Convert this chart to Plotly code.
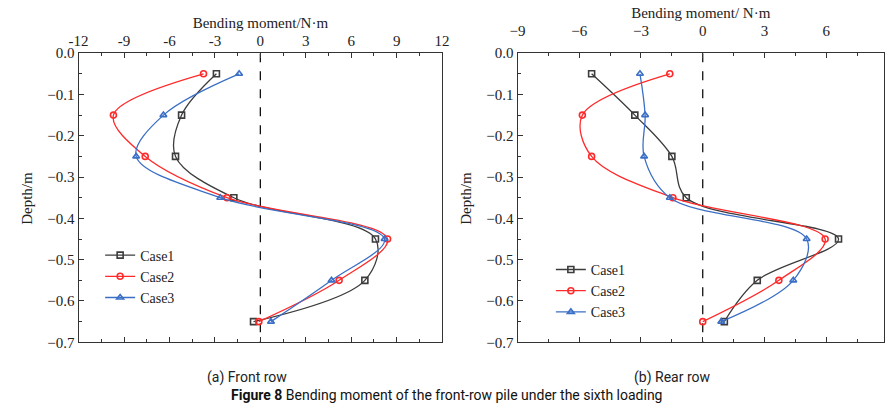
import plotly.graph_objects as go

# Depth of each measuring point along the pile (m)
depth = [-0.05, -0.15, -0.25, -0.35, -0.45, -0.55, -0.65]

# Bending moment (N·m), front-row pile
front_case1 = [-2.9, -5.2, -5.6, -1.75, 7.6, 6.9, -0.45]
front_case2 = [-3.75, -9.7, -7.6, -2.2, 8.4, 5.2, -0.1]
front_case3 = [-1.4, -6.4, -8.2, -2.65, 8.2, 4.7, 0.7]

# Bending moment (N·m), rear-row pile
rear_case1 = [-5.4, -3.3, -1.5, -0.8, 6.6, 2.65, 1.05]
rear_case2 = [-1.6, -5.85, -5.4, -1.45, 5.95, 3.7, 0.0]
rear_case3 = [-3.05, -2.8, -2.85, -1.6, 5.05, 4.4, 0.9]

case_names = ["Case1", "Case2", "Case3"]
case_colors = ["#3c3c3c", "#ff2b2b", "#3b6fc6"]
case_symbols = ["square-open", "circle-open", "triangle-up-open"]

front_ticks = [-12, -9, -6, -3, 0, 3, 6, 9, 12]
rear_ticks = [-9, -6, -3, 0, 3, 6]
depth_ticks = [0.0, -0.1, -0.2, -0.3, -0.4, -0.5, -0.6, -0.7]

W, H = 892, 406
SERIF = "Liberation Serif, Times New Roman, serif"
NARROW = "Liberation Sans Narrow, Arial Narrow, Roboto, sans-serif"

fig = go.Figure()

panels = [
    ("x", "y", "legend", [front_case1, front_case2, front_case3]),
    ("x2", "y2", "legend2", [rear_case1, rear_case2, rear_case3]),
]
for xa, ya, lg, series in panels:
    for name, vals, col, sym in zip(case_names, series, case_colors, case_symbols):
        fig.add_trace(go.Scatter(
            x=vals, y=depth, name=name, xaxis=xa, yaxis=ya, legend=lg,
            mode="lines+markers",
            line=dict(color=col, width=1.3, shape="spline", smoothing=1.0),
            marker=dict(symbol=sym, size=6, color=col, line=dict(width=1.6, color=col)),
        ))

# Zero-moment reference lines
for xa, ya in [("x", "y"), ("x2", "y2")]:
    fig.add_shape(type="line", xref=xa, yref=ya, x0=0, x1=0, y0=0, y1=-0.7,
                  line=dict(color="#111111", width=1.3, dash="dash"), layer="below")

top_px, bot_px = 47, 348
ydom = [1 - bot_px / H, 1 - top_px / H]

axis_common = dict(
    showline=True, linecolor="#333333", linewidth=1.3,
    ticks="inside", ticklen=5, tickwidth=1.2, tickcolor="#333333",
    showgrid=False, zeroline=False,
    tickfont=dict(family=SERIF, size=15, color="#222222"),
    title_font=dict(family=SERIF, size=15, color="#222222"),
)

fig.update_layout(
    width=W, height=H,
    margin=dict(l=0, r=0, t=0, b=0),
    paper_bgcolor="white", plot_bgcolor="white",
    font=dict(family=SERIF, size=15, color="#222222"),
    showlegend=True,
    xaxis=dict(
        **axis_common, domain=[70 / W, 441 / W], anchor="y", side="top",
        range=[-12, 12], tickvals=front_ticks, ticktext=[str(t) for t in front_ticks],
        mirror="allticks", ticklabelstandoff=0,
        minor=dict(ticks="inside", ticklen=3, tickcolor="#333333", dtick=1.5, tick0=0),
        title=dict(text="Bending moment/N·m", standoff=0),
    ),
    yaxis=dict(
        **axis_common, domain=ydom, anchor="x", range=[-0.7, 0],
        tickvals=depth_ticks, tickformat=".1f", mirror=True,
        minor=dict(ticks="inside", ticklen=3, tickcolor="#333333", dtick=0.05),
    ),
    xaxis2=dict(
        **axis_common, domain=[518 / W, 1.0], anchor="y2", side="top",
        range=[-9, 8.81], tickvals=rear_ticks, mirror="allticks", ticklabelstandoff=10,
        minor=dict(ticks="inside", ticklen=3, tickcolor="#333333", dtick=1.5, tick0=0),
        title=dict(text="Bending moment/ N·m", standoff=0),
    ),
    yaxis2=dict(
        **axis_common, domain=ydom, anchor="x2", range=[-0.7, 0],
        tickvals=depth_ticks, tickformat=".1f", mirror=True,
        minor=dict(ticks="inside", ticklen=3, tickcolor="#333333", dtick=0.05),
    ),
    legend=dict(
        x=92 / W, y=1 - 241 / H, xanchor="left", yanchor="top",
        bgcolor="rgba(0,0,0,0)", tracegroupgap=0, itemsizing="trace",
        font=dict(family=SERIF, size=14, color="#222222"),
    ),
    legend2=dict(
        x=552 / W, y=1 - 256 / H, xanchor="left", yanchor="top",
        bgcolor="rgba(0,0,0,0)", tracegroupgap=0, itemsizing="trace",
        font=dict(family=SERIF, size=14, color="#222222"),
    ),
)

# Depth axis titles, set further out than the automatic placement
for xp in (18, 466):
    fig.add_annotation(text="Depth/m", x=xp / W, y=1 - 198 / H, xref="paper", yref="paper",
                       xanchor="center", yanchor="middle", textangle=-90, showarrow=False,
                       font=dict(family=SERIF, size=15, color="#222222"))

# Panel captions and figure caption
cap_font = dict(family=NARROW, size=14, color="#222222")
fig.add_annotation(text="(a) Front row", x=242 / W, y=1 - 385 / H, xref="paper", yref="paper",
                   xanchor="center", yanchor="middle", showarrow=False, font=cap_font)
fig.add_annotation(text="(b) Rear row", x=676 / W, y=1 - 385 / H, xref="paper", yref="paper",
                   xanchor="center", yanchor="middle", showarrow=False, font=cap_font)
fig.add_annotation(text="<b>Figure 8</b> Bending moment of the front-row pile under the sixth loading",
                   x=445 / W, y=1 - 403 / H, xref="paper", yref="paper",
                   xanchor="center", yanchor="middle", showarrow=False,
                   font=dict(family=NARROW, size=14, color="#111111"))

fig.write_html("out.html")
